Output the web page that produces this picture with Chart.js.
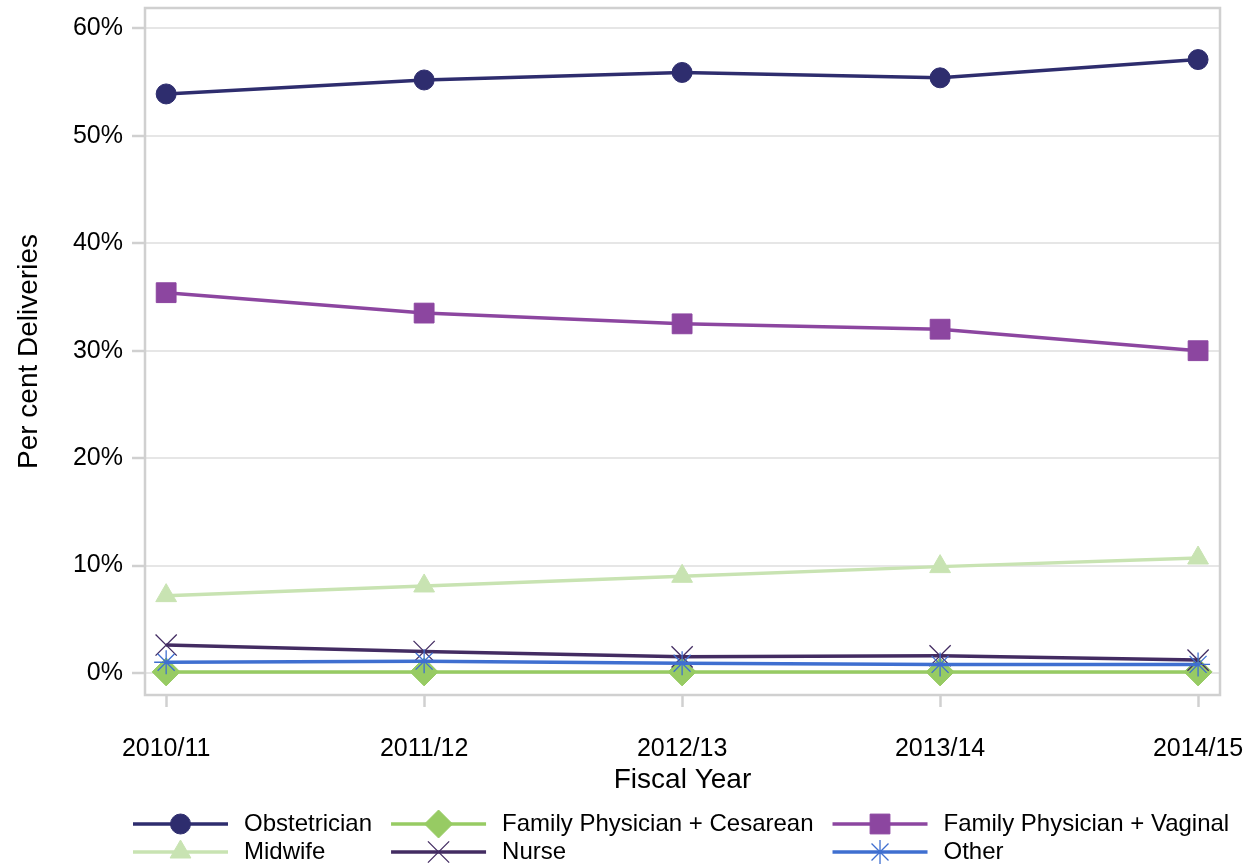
<!DOCTYPE html>
<html>
<head>
<meta charset="utf-8">
<script src="https://cdn.jsdelivr.net/npm/chart.js@4/dist/chart.umd.min.js"></script>
<style>
  html, body { margin: 0; padding: 0; background: #fff; }
  #wrap { width: 1256px; height: 865px; position: relative; }
</style>
</head>
<body>
<div id="wrap"><canvas id="c"></canvas></div>
<script>
// fiscal years on the x axis
const years = ['2010/11', '2011/12', '2012/13', '2013/14', '2014/15'];
const yTicks = [0, 10, 20, 30, 40, 50, 60];

// per cent of deliveries by provider
const obstetrician = [53.9, 55.2, 55.9, 55.4, 57.1];
const fpCesarean = [0.1, 0.1, 0.1, 0.1, 0.1];
const fpVaginal = [35.4, 33.5, 32.5, 32.0, 30.0];
const midwife = [7.2, 8.1, 9.0, 9.9, 10.7];
const nurse = [2.6, 2.0, 1.5, 1.6, 1.2];
const other = [1.0, 1.1, 0.9, 0.8, 0.8];

const FONT = '"Liberation Sans", Arial, sans-serif';

const series = [
    { label: 'Obstetrician', data: obstetrician, color: '#2e2d6e', style: 'circle', r: 10, bw: 1 },
    { label: 'Family Physician + Cesarean', data: fpCesarean, color: '#97cb63', style: 'rectRot', r: 14, bw: 1 },
    { label: 'Family Physician + Vaginal', data: fpVaginal, color: '#8c46a0', style: 'rect', r: 14, bw: 1 },
    { label: 'Midwife', data: midwife, color: '#c8e3b2', style: 'triangle', r: 12, bw: 1 },
    { label: 'Nurse', data: nurse, color: '#432c62', style: 'crossRot', r: 15, bw: 1.3 },
    { label: 'Other', data: other, color: '#3f6fd0', style: 'star', r: 12, bw: 1.3 }
];

const datasets = series.map((s, i) => ({
    label: s.label,
    data: s.data.map((v, k) => ({ x: k, y: v })),
    borderColor: s.color,
    backgroundColor: s.color,
    pointBackgroundColor: s.color,
    pointBorderColor: s.color,
    pointStyle: s.style,
    pointRadius: s.r,
    pointBorderWidth: s.bw,
    borderWidth: 3.5,
    tension: 0,
    order: series.length - i
}));

// frame around the plot area
const framePlugin = {
    id: 'frame',
    beforeDatasetsDraw(chart) {
        const a = chart.chartArea, ctx = chart.ctx;
        ctx.save();
        ctx.strokeStyle = '#d0d0d0';
        ctx.lineWidth = 2.5;
        ctx.strokeRect(a.left, a.top, a.right - a.left, a.bottom - a.top);
        ctx.restore();
    }
};

// legend with line + marker samples, 3 columns x 2 rows
const legendPlugin = {
    id: 'lineLegend',
    afterDraw(chart) {
        const ctx = chart.ctx;
        ctx.save();
        ctx.font = '24px ' + FONT;
        ctx.textBaseline = 'middle';
        ctx.fillStyle = '#000';
        const cols = 3, rowY = [824, 852], lineLen = 95, gap = 16;
        let x = 133;
        for (let c = 0; c < cols; c++) {
            let maxW = 0;
            for (let r = 0; r < 2; r++) {
                const s = series[r * cols + c];
                if (!s) continue;
                const y = rowY[r];
                ctx.strokeStyle = s.color;
                ctx.lineWidth = 3.5;
                ctx.beginPath();
                ctx.moveTo(x, y);
                ctx.lineTo(x + lineLen, y);
                ctx.stroke();
                ctx.fillStyle = s.color;
                ctx.lineWidth = s.bw;
                Chart.helpers.drawPoint(ctx, { pointStyle: s.style, radius: s.r, rotation: 0, borderWidth: s.bw }, x + lineLen / 2, y);
                ctx.fillStyle = '#000';
                ctx.fillText(s.label, x + lineLen + gap, y);
                maxW = Math.max(maxW, ctx.measureText(s.label).width);
            }
            x += lineLen + gap + maxW + 19;
        }
        ctx.restore();
    }
};

new Chart(document.getElementById('c'), {
    type: 'line',
    data: { datasets },
    options: {
        responsive: true,
        maintainAspectRatio: false,
        animation: false,
        layout: { autoPadding: false, padding: { top: 8, right: 36, left: 0, bottom: 68 } },
        plugins: { legend: { display: false }, tooltip: { enabled: false } },
        scales: {
            x: {
                type: 'linear',
                min: -0.082,
                max: 4.085,
                afterBuildTicks: s => { s.ticks = years.map((_, i) => ({ value: i })); },
                afterFit: s => { s.height = 102; s.paddingLeft = 0; s.paddingRight = 0; },
                ticks: {
                    callback: v => years[v],
                    font: { family: FONT, size: 25 },
                    color: '#000',
                    padding: 27,
                    maxRotation: 0,
                    autoSkip: false
                },
                grid: { drawOnChartArea: false, drawTicks: true, tickLength: 12, tickWidth: 2.5, color: '#d0d0d0' },
                border: { display: false },
                title: { display: true, text: 'Fiscal Year', font: { family: FONT, size: 28 }, color: '#000', padding: { top: 4, bottom: 0 } }
            },
            y: {
                min: -2.05,
                max: 61.9,
                afterBuildTicks: s => { s.ticks = yTicks.map(v => ({ value: v })); },
                afterFit: s => { s.width = 145; s.paddingTop = 0; s.paddingBottom = 0; },
                ticks: {
                    callback: v => v + '%',
                    font: { family: FONT, size: 25 },
                    color: '#000',
                    padding: 9
                },
                grid: { color: '#e6e6e6', lineWidth: 2, tickColor: '#d0d0d0', tickLength: 13, tickWidth: 2.5 },
                border: { display: false },
                title: { display: true, text: 'Per cent Deliveries', font: { family: FONT, size: 28 }, color: '#000', padding: { top: 12, bottom: 0 } }
            }
        }
    },
    plugins: [framePlugin, legendPlugin]
});
</script>
</body>
</html>
